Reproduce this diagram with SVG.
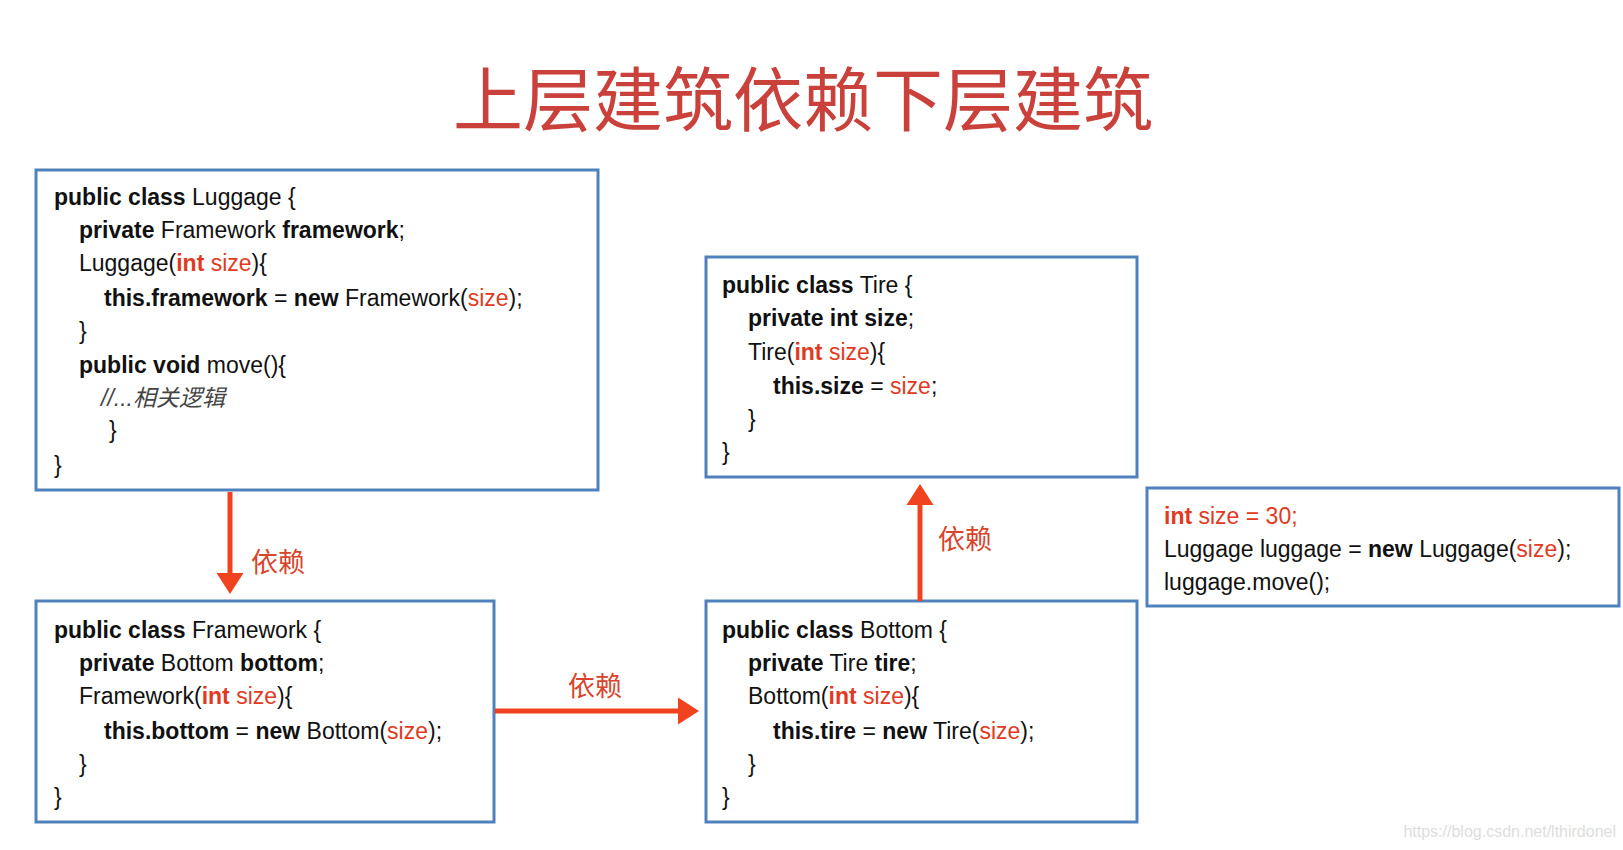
<svg xmlns="http://www.w3.org/2000/svg" width="1623" height="850" viewBox="0 0 1623 850">
<style>
.box{fill:#fff;stroke:#4f81bd;stroke-width:3}
text{font-family:"Liberation Sans","Noto Sans CJK SC",sans-serif;font-size:23px;fill:#111}
.b{font-weight:bold}
.r{fill:#e03a22}
.c{font-style:italic;fill:#444}
.lbl{font-size:27px;fill:#d9442c}
.arr{stroke:#f0421e;stroke-width:5;fill:none}
</style>
<defs><marker id="ah" markerWidth="6" markerHeight="6" refX="3" refY="3" orient="auto" markerUnits="strokeWidth"><path d="M0,0.3 L4.2,3 L0,5.7 Z" fill="#f0421e"/></marker></defs>
<rect width="1623" height="850" fill="#fff"/>
<text x="803" y="126" text-anchor="middle" style="font-size:70px;fill:#c9413a;font-family:'Noto Sans CJK SC',sans-serif">上层建筑依赖下层建筑</text>
<g id="luggage"><rect class="box" x="36" y="170" width="562" height="320"/>
<text x="54" y="205"><tspan class="b">public class</tspan> Luggage {</text>
<text x="79" y="238"><tspan class="b">private</tspan> Framework <tspan class="b">framework</tspan>;</text>
<text x="79" y="271">Luggage(<tspan class="b r">int</tspan><tspan class="r"> size</tspan>){</text>
<text x="104" y="306"><tspan class="b">this.framework</tspan> = <tspan class="b">new</tspan> Framework(<tspan class="r">size</tspan>);</text>
<text x="79" y="339">}</text>
<text x="79" y="373"><tspan class="b">public void</tspan> move(){</text>
<text x="101" y="406" class="c">//...相关逻辑</text>
<text x="109" y="438">}</text>
<text x="54" y="473">}</text></g>
<g id="framework"><rect class="box" x="36" y="601" width="458" height="221"/>
<text x="54" y="638"><tspan class="b">public class</tspan> Framework {</text>
<text x="79" y="671"><tspan class="b">private</tspan> Bottom <tspan class="b">bottom</tspan>;</text>
<text x="79" y="704">Framework(<tspan class="b r">int</tspan><tspan class="r"> size</tspan>){</text>
<text x="104" y="739"><tspan class="b">this.bottom</tspan> = <tspan class="b">new</tspan> Bottom(<tspan class="r">size</tspan>);</text>
<text x="79" y="772">}</text>
<text x="54" y="805">}</text></g>
<g id="bottom"><rect class="box" x="706" y="601" width="431" height="221"/>
<text x="722" y="638"><tspan class="b">public class</tspan> Bottom {</text>
<text x="748" y="671"><tspan class="b">private</tspan> Tire <tspan class="b">tire</tspan>;</text>
<text x="748" y="704">Bottom(<tspan class="b r">int</tspan><tspan class="r"> size</tspan>){</text>
<text x="773" y="739"><tspan class="b">this.tire</tspan> = <tspan class="b">new</tspan> Tire(<tspan class="r">size</tspan>);</text>
<text x="748" y="772">}</text>
<text x="722" y="805">}</text></g>
<g id="tire"><rect class="box" x="706" y="257" width="431" height="220"/>
<text x="722" y="293"><tspan class="b">public class</tspan> Tire {</text>
<text x="748" y="326"><tspan class="b">private int size</tspan>;</text>
<text x="748" y="360">Tire(<tspan class="b r">int</tspan><tspan class="r"> size</tspan>){</text>
<text x="773" y="394"><tspan class="b">this.size</tspan> = <tspan class="r">size</tspan>;</text>
<text x="748" y="427">}</text>
<text x="722" y="460">}</text></g>
<g id="main"><rect class="box" x="1147" y="488" width="472" height="118"/>
<text x="1164" y="524"><tspan class="b r">int</tspan><tspan class="r"> size = 30;</tspan></text>
<text x="1164" y="557">Luggage luggage = <tspan class="b">new</tspan> Luggage(<tspan class="r">size</tspan>);</text>
<text x="1164" y="590">luggage.move();</text></g>
<g id="connectors">
<path class="arr" d="M230,492 V588" marker-end="url(#ah)"/>
<path class="arr" d="M495,711 H693" marker-end="url(#ah)"/>
<path class="arr" d="M920,601 V490" marker-end="url(#ah)"/>
<text x="251" y="572" class="lbl">依赖</text>
<text x="568" y="696" class="lbl">依赖</text>
<text x="938" y="549" class="lbl">依赖</text>
</g>
<text x="1616" y="837" text-anchor="end" style="font-size:16px;fill:#ddd">https://blog.csdn.net/lthirdonel</text>
</svg>
